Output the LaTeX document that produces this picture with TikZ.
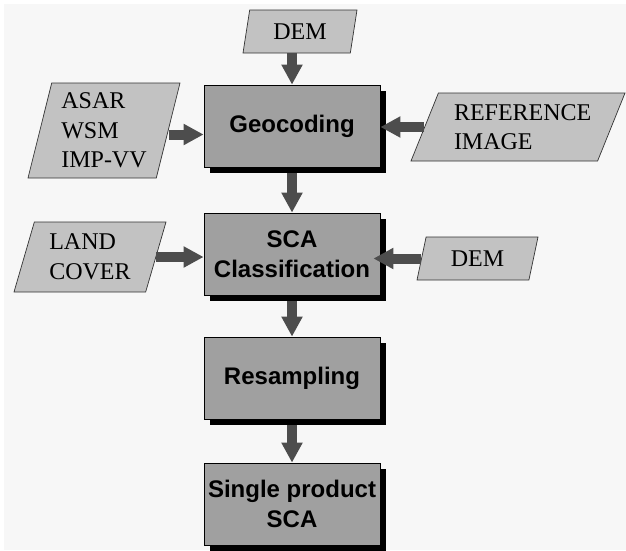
\documentclass[tikz,border=0pt]{standalone}
\usepackage{fontspec}
\setmainfont{Liberation Serif}
\setsansfont{Liberation Sans}
\usetikzlibrary{shapes.geometric,shadows,arrows.meta}
\definecolor{bggray}{HTML}{F7F7F7}
\definecolor{boxgray}{HTML}{A0A0A0}
\definecolor{ingray}{HTML}{C2C2C2}
\definecolor{arrgray}{HTML}{4D4D4D}

\begin{document}
\begin{tikzpicture}[x=1pt, y=-1pt,
    proc/.style={draw=black, line width=0.8pt, fill=boxgray, minimum width=176pt, minimum height=82pt,
      inner sep=0pt, align=center, font=\fontsize{24}{30}\selectfont\sffamily\bfseries,
      general shadow={fill=black, shadow xshift=6pt, shadow yshift=-6pt}},
    data/.style={trapezium, trapezium stretches body, draw=black!80, line width=0.7pt, fill=ingray,
      inner sep=0pt, align=left, font=\fontsize{24}{29.5}\selectfont},
    flow/.style={line width=10pt, arrgray, -{Triangle[length=20pt, width=20pt]}}]
  \useasboundingbox (0,0) rectangle (626,550);
  \fill [bggray] (4,4) rectangle (626,550);

  \node [proc] (Geo) at (292,126) {Geocoding};
  \node [proc] (SCA) at (292,254) {SCA\\Classification};
  \node [proc] (Res) at (292,378) {Resampling};
  \node [proc] (Prod) at (292,504) {Single product\\SCA};

  \node [data, trapezium left angle=67, trapezium right angle=113,
    minimum width=114pt, minimum height=43pt] (DEM1) at (300,31.5) {DEM};
  \node [data, trapezium left angle=72.5, trapezium right angle=107.5,
    minimum width=152pt, minimum height=95pt] (ASAR) at (104,130.5) {ASAR\\WSM\\IMP-VV};
  \node [data, trapezium left angle=59, trapezium right angle=121, text width=128pt,
    minimum width=214pt, minimum height=68pt] (Ref) at (518,127) {REFERENCE\\IMAGE};
  \node [data, trapezium left angle=66, trapezium right angle=114,
    minimum width=152pt, minimum height=70pt] (Land) at (90,257) {LAND\\COVER};
  \node [data, trapezium left angle=60, trapezium right angle=120,
    minimum width=121pt, minimum height=43pt] (DEM2) at (477.5,258.5) {DEM};

  \draw [flow] (DEM1.south -| Geo.north) -- (Geo.north);
  \draw [flow] ([yshift=-4pt]ASAR.east) -- ([yshift=-4pt]ASAR.east -| Geo.west);
  \draw [flow] (Ref.west) -- (Ref.west -| Geo.east);
  \draw [flow] ([yshift=-6pt]Geo.south) -- (SCA.north);
  \draw [flow] (Land.east) -- (Land.east -| SCA.west);
  \draw [flow] (DEM2.west) -- ([xshift=-7pt]DEM2.west -| SCA.east);
  \draw [flow] ([yshift=-6pt]SCA.south) -- (Res.north);
  \draw [flow] ([yshift=-6pt]Res.south) -- (Prod.north);
\end{tikzpicture}
\end{document}
